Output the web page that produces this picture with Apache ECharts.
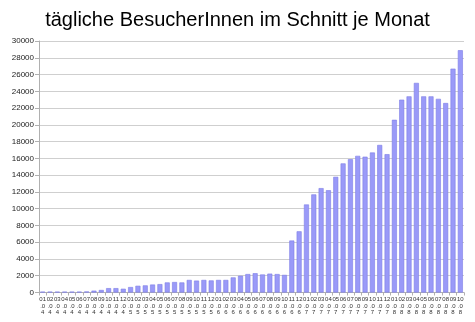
<!DOCTYPE html>
<html>
<head>
<meta charset="utf-8">
<script src="https://cdn.jsdelivr.net/npm/echarts@6/dist/echarts.min.js"></script>
<style>html,body{margin:0;padding:0;background:#fff}#c{width:475px;height:322px}</style>
</head>
<body>
<div id="c"></div>
<script>
const titleText = 'tägliche BesucherInnen im Schnitt je Monat';
const categories = [
 '01.04','02.04','03.04','04.04','05.04','06.04','07.04','08.04','09.04','10.04','11.04','12.04',
 '01.05','02.05','03.05','04.05','05.05','06.05','07.05','08.05','09.05','10.05','11.05','12.05',
 '01.06','02.06','03.06','04.06','05.06','06.06','07.06','08.06','09.06','10.06','11.06','12.06',
 '01.07','02.07','03.07','04.07','05.07','06.07','07.07','08.07','09.07','10.07','11.07','12.07',
 '01.08','02.08','03.08','04.08','05.08','06.08','07.08','08.08','09.08','10.08'
];
const visitors = [
 100,100,100,100,100,100,120,220,300,520,520,450,
 650,800,850,950,1000,1200,1250,1200,1500,1420,1500,1440,
 1500,1500,1800,2000,2200,2300,2150,2250,2200,2100,6200,7300,
 10500,11700,12450,12200,13800,15400,15900,16300,16200,16700,17600,16500,
 20600,23000,23400,25000,23400,23400,23100,22600,26700,28900
];
const yMin = 0, yMax = 30000, yStep = 2000;

const chart = echarts.init(document.getElementById('c'), null, {renderer:'canvas'});
const font = 'Liberation Sans, Arial, sans-serif';
chart.setOption({
  animation: false,
  title: {
    text: titleText, left: 'center', top: 5,
    textStyle: {fontFamily: font, fontSize: 20, fontWeight: 'normal', color: '#000'}
  },
  grid: {left: 39, right: 11, top: 41, bottom: 29.5, containLabel: false},
  xAxis: {
    type: 'category', data: categories,
    axisLine: {lineStyle: {color: '#b0b0b0', width: 1}},
    axisTick: {show: true, length: 3, lineStyle: {color: '#b0b0b0'}},
    axisLabel: {
      interval: 0, margin: 4, fontFamily: font, fontSize: 6, lineHeight: 6.3, color: '#333',
      formatter: v => v.slice(0,2) + '\n' + v.slice(2,4) + '\n' + v.slice(4)
    }
  },
  yAxis: {
    type: 'value', min: yMin, max: yMax, interval: yStep,
    axisLine: {show: true, lineStyle: {color: '#b0b0b0'}},
    axisTick: {show: true, length: 4, lineStyle: {color: '#b0b0b0'}},
    axisLabel: {fontFamily: font, fontSize: 8, color: '#222', margin: 5, formatter: v => String(v)},
    splitLine: {lineStyle: {color: '#cfcfcf', width: 1}}
  },
  series: [{
    type: 'bar', data: visitors, barWidth: 5,
    itemStyle: {color: '#9a9af8', borderColor: '#7e7ee6', borderWidth: 0.6}
  }]
});
</script>
</body>
</html>
